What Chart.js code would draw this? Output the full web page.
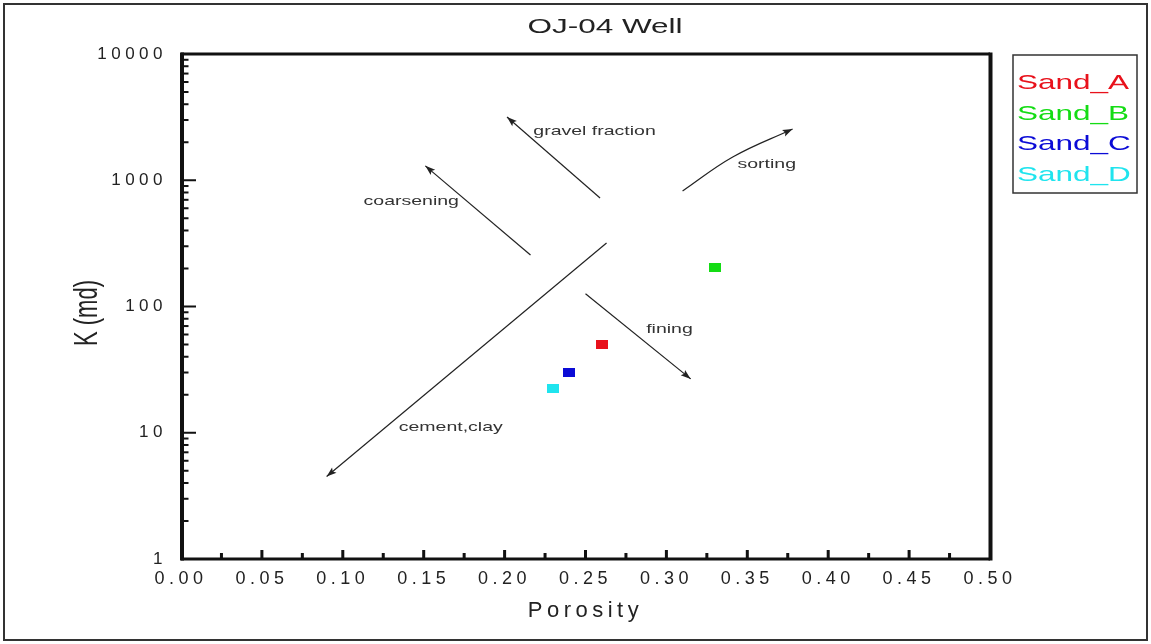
<!DOCTYPE html>
<html>
<head>
<meta charset="utf-8">
<title>OJ-04 Well</title>
<script src="https://cdn.jsdelivr.net/npm/chart.js@4/dist/chart.umd.min.js"></script>
<style>
  html, body { margin: 0; padding: 0; background: #fff; }
  canvas { display: block; }
</style>
</head>
<body>
<canvas id="myChart" width="1151" height="644"></canvas>
<script>
// sands (porosity, permeability in md)
const sandNames = ['Sand_A', 'Sand_B', 'Sand_C', 'Sand_D'];
const porosity = [0.26, 0.33, 0.24, 0.23];
const permeability = [50, 205, 30, 22.6];
const sandColors = ['#e8111b', '#14dc14', '#0b0bd6', '#1fe4ee'];

// axis ticks
const xTicks = [0, 0.05, 0.1, 0.15, 0.2, 0.25, 0.3, 0.35, 0.4, 0.45, 0.5];
const yTicks = [1, 10, 100, 1000, 10000];

// trend arrows, start point first, tip last
const arrowCementClay = [{x: 0.263, y: 318}, {x: 0.090, y: 4.5}];
const arrowCoarsening = [{x: 0.216, y: 256}, {x: 0.151, y: 1300}];
const arrowGravel = [{x: 0.259, y: 723}, {x: 0.2015, y: 3170}];
const arrowSorting = [{x: 0.310, y: 822}, {x: 0.341, y: 1528}, {x: 0.378, y: 2547}];
const arrowFining = [{x: 0.250, y: 126}, {x: 0.315, y: 26.7}];

const noteTexts = ['gravel fraction', 'sorting', 'coarsening', 'fining', 'cement,clay'];
const noteX = [0.2556, 0.362, 0.1423, 0.3019, 0.1667];
const noteY = [2417, 1327, 680, 65.8, 11.05];

const FONT = 'Arial, "Liberation Sans", sans-serif';
const STRETCH = 1.5; // text in the original is wide

function boxImg(color) {
    const c = document.createElement('canvas');
    c.width = 12;
    c.height = 9;
    const g = c.getContext('2d');
    g.fillStyle = color;
    g.fillRect(0, 0, 12, 9);
    return c;
}

function wideText(ctx, text, x, y, size, color, align, baseline) {
    ctx.save();
    ctx.letterSpacing = '0px';
    ctx.font = size + 'px ' + FONT;
    ctx.fillStyle = color;
    ctx.textAlign = 'left';
    ctx.textBaseline = baseline || 'alphabetic';
    const w = ctx.measureText(text).width * STRETCH;
    let x0 = x;
    if (align === 'center') x0 = x - w / 2;
    if (align === 'right') x0 = x - w;
    ctx.translate(x0, y);
    ctx.scale(STRETCH, 1);
    ctx.fillText(text, 0, 0);
    ctx.restore();
}

const arrowSets = [arrowCementClay, arrowCoarsening, arrowGravel, arrowSorting, arrowFining];

const sandDatasets = sandNames.map((name, i) => ({
    label: name,
    data: [{x: porosity[i], y: permeability[i]}],
    pointStyle: boxImg(sandColors[i]),
    pointRadius: 6,
    backgroundColor: sandColors[i],
    borderColor: sandColors[i]
}));

const arrowDatasets = arrowSets.map((pts) => ({
    label: '',
    data: pts,
    showLine: true,
    pointRadius: 0,
    borderColor: '#222',
    borderWidth: 1.2,
    tension: pts.length > 2 ? 0.4 : 0,
    isArrow: true
}));

const decor = {
    id: 'decor',
    beforeDraw(chart) {
        chart.ctx.letterSpacing = '4.5px';
    },
    afterDraw(chart) {
        const ctx = chart.ctx;
        const ca = chart.chartArea;
        const xs = chart.scales.x;
        const ys = chart.scales.y;
        ctx.save();
        ctx.letterSpacing = '0px';
        ctx.fillStyle = '#111';

        // plot frame
        ctx.fillRect(ca.left - 1, ca.top - 1.5, 4, ca.bottom - ca.top + 3);
        ctx.fillRect(ca.right - 1.5, ca.top - 1.5, 4, ca.bottom - ca.top + 3);
        ctx.fillRect(ca.left, ca.top - 1.5, ca.right - ca.left, 3);
        ctx.fillRect(ca.left, ca.bottom - 1.5, ca.right - ca.left, 3);

        // inward ticks, y
        for (let d = 0; d < yTicks.length - 1; d++) {
            for (let m = 1; m <= 9; m++) {
                const py = ys.getPixelForValue(yTicks[d] * m);
                const len = m === 1 ? 15 : 7.5;
                ctx.fillRect(ca.left, py - 1, len, 2);
            }
        }
        // inward ticks, x
        for (let i = 1; i < xTicks.length; i++) {
            const px = xs.getPixelForValue(xTicks[i]);
            const pm = xs.getPixelForValue((xTicks[i] + xTicks[i - 1]) / 2);
            if (i < xTicks.length - 1) ctx.fillRect(px - 1.5, ca.bottom - 9, 3, 9);
            ctx.fillRect(pm - 1.5, ca.bottom - 6, 3, 6);
        }

        // arrow heads
        ctx.fillStyle = '#222';
        chart.data.datasets.forEach((ds, i) => {
            if (!ds.isArrow) return;
            const pts = chart.getDatasetMeta(i).data;
            const tip = pts[pts.length - 1];
            const prev = pts[pts.length - 2];
            let fx = prev.x, fy = prev.y;
            if (tip.cp1x !== undefined && pts.length > 2) { fx = tip.cp1x; fy = tip.cp1y; }
            const a = Math.atan2(tip.y - fy, tip.x - fx);
            ctx.save();
            ctx.translate(tip.x, tip.y);
            ctx.rotate(a);
            ctx.beginPath();
            ctx.moveTo(0, 0);
            ctx.lineTo(-10, -3.5);
            ctx.lineTo(-8, 0);
            ctx.lineTo(-10, 3.5);
            ctx.closePath();
            ctx.fill();
            ctx.restore();
        });

        // notes
        noteTexts.forEach((t, i) => {
            wideText(ctx, t, xs.getPixelForValue(noteX[i]), ys.getPixelForValue(noteY[i]), 13, '#333', 'center', 'middle');
        });

        // title
        wideText(ctx, 'OJ-04 Well', 605, 33, 21, '#222', 'center');

        // y title, rotated
        ctx.save();
        ctx.font = '22px ' + FONT;
        ctx.fillStyle = '#222';
        ctx.textAlign = 'center';
        ctx.textBaseline = 'middle';
        ctx.translate(88, 313);
        ctx.rotate(-Math.PI / 2);
        ctx.scale(1, STRETCH);
        ctx.fillText('K (md)', 0, 0);
        ctx.restore();

        // legend
        ctx.strokeStyle = '#333';
        ctx.lineWidth = 1.5;
        ctx.strokeRect(1013, 55, 124, 138);
        sandNames.forEach((n, i) => {
            wideText(ctx, n, 1017, 89 + i * 30.5, 21, sandColors[i], 'left');
        });

        // outer border
        ctx.lineWidth = 2;
        ctx.strokeStyle = '#333';
        ctx.strokeRect(4, 4, 1143, 636);
        ctx.restore();
    }
};

document.addEventListener('DOMContentLoaded', () => {
    const ctx = document.getElementById('myChart');
    new Chart(ctx, {
        type: 'scatter',
        data: {
            datasets: sandDatasets.concat(arrowDatasets)
        },
        options: {
            responsive: false,
            animation: false,
            layout: {
                padding: {left: 0, top: 54, right: 161, bottom: 0}
            },
            plugins: {
                legend: {display: false},
                title: {display: false},
                tooltip: {enabled: false}
            },
            scales: {
                x: {
                    type: 'linear',
                    min: 0,
                    max: 0.5,
                    afterFit: (scale) => { scale.height = 85; },
                    afterBuildTicks: (scale) => { scale.ticks = xTicks.map(v => ({value: v})); },
                    grid: {display: false, drawTicks: false},
                    border: {display: false},
                    ticks: {
                        autoSkip: false,
                        maxRotation: 0,
                        padding: 9,
                        color: '#222',
                        font: {family: FONT, size: 18},
                        callback: (v) => Number(v).toFixed(2)
                    },
                    title: {
                        display: true,
                        text: 'Porosity',
                        color: '#222',
                        font: {family: FONT, size: 22},
                        padding: {top: 0, bottom: 20}
                    }
                },
                y: {
                    type: 'logarithmic',
                    min: 1,
                    max: 10000,
                    afterFit: (scale) => { scale.width = 181; },
                    afterBuildTicks: (scale) => { scale.ticks = yTicks.map(v => ({value: v, major: true})); },
                    grid: {display: false, drawTicks: false},
                    border: {display: false},
                    ticks: {
                        autoSkip: false,
                        padding: 14,
                        color: '#222',
                        font: {family: FONT, size: 17},
                        callback: (v) => String(v)
                    },
                    title: {display: false}
                }
            }
        },
        plugins: [decor]
    });
});
</script>
</body>
</html>
